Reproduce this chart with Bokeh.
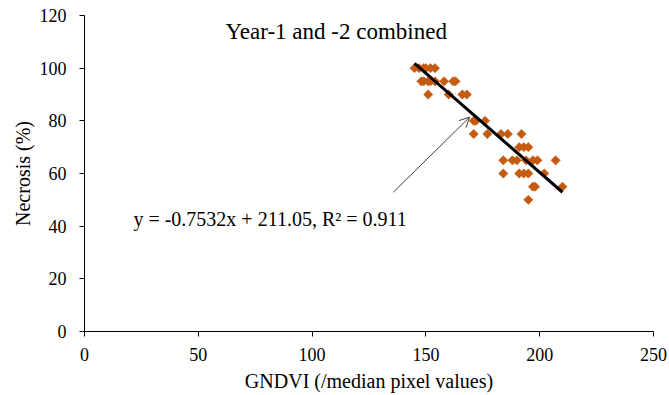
import math
from bokeh.plotting import figure
from bokeh.models import Range1d, FixedTicker, Label, Arrow, OpenHead, ColumnDataSource
from bokeh.embed import file_html
from bokeh.resources import INLINE

# ---- data ----
gndvi = [145, 147, 149, 150, 152, 154,
         148, 149, 151, 152, 154, 158, 162, 163,
         151, 160, 166, 168,
         171, 172, 176,
         171, 177, 183, 186, 192,
         191, 193, 195,
         184, 188, 190, 194, 197, 199, 207,
         184, 191, 193, 195, 202,
         197, 198, 210,
         195]
necrosis = [100] * 6 + [95] * 8 + [90] * 4 + [80] * 3 + [75] * 5 + [70] * 3 + [65] * 7 + [60] * 5 + [55] * 3 + [50]

slope = -0.7532
intercept = 211.05
r2 = 0.911

x_ticks = [0, 50, 100, 150, 200, 250]
y_ticks = [0, 20, 40, 60, 80, 100, 120]

title_text = "Year-1 and -2 combined"
eq_text = "y = -0.7532x + 211.05, R\u00b2 = 0.911"
x_label = "GNDVI (/median pixel values)"
y_label = "Necrosis (%)"

FONT = "Liberation Serif"

p = figure(width=669, height=395, output_backend="svg", toolbar_location=None,
           x_range=Range1d(0, 250), y_range=Range1d(0, 120),
           min_border_left=84, min_border_right=16, min_border_top=15, min_border_bottom=64)
p.outline_line_color = None
p.background_fill_color = "white"
p.border_fill_color = "white"
p.xgrid.visible = False
p.ygrid.visible = False

for ax in (p.xaxis[0], p.yaxis[0]):
    ax.axis_line_color = "black"
    ax.axis_line_width = 1
    ax.major_tick_line_color = "black"
    ax.major_tick_in = 0
    ax.major_tick_out = 5
    ax.minor_tick_line_color = None
    ax.major_label_text_font = FONT
    ax.major_label_text_font_size = "18px"
    ax.major_label_text_color = "black"
    ax.axis_label_text_font = FONT
    ax.axis_label_text_font_size = "20px"
    ax.axis_label_text_font_style = "normal"
    ax.axis_label_text_color = "black"

p.xaxis.ticker = FixedTicker(ticks=x_ticks)
p.yaxis.ticker = FixedTicker(ticks=y_ticks)
p.xaxis.axis_label = x_label
p.yaxis.axis_label = y_label
p.xaxis.major_label_standoff = 11
p.yaxis.major_label_standoff = 13
p.xaxis.axis_label_standoff = 6
p.yaxis.axis_label_standoff = 3

src = ColumnDataSource(dict(x=gndvi, y=necrosis))
p.scatter("x", "y", source=src, marker="square", angle=math.pi / 4, size=6.6,
          fill_color="#C55A11", line_color="#C55A11", line_width=0.5)

# linear trendline over the data range
x0, x1 = min(gndvi), max(gndvi)
p.line([x0, x1], [slope * x0 + intercept, slope * x1 + intercept], line_color="black", line_width=3)

p.add_layout(Arrow(end=OpenHead(size=10, line_color="#404040", line_width=1),
                   x_start=135.7, y_start=52.9, x_end=169.2, y_end=81.4,
                   line_color="#404040", line_width=1))

p.add_layout(Label(x=21.5, y=42.8, text=eq_text, text_font=FONT, text_font_size="20px",
                   text_color="black", text_align="left", text_baseline="alphabetic"))
p.add_layout(Label(x=110.6, y=114.1, text=title_text, text_font=FONT, text_font_size="23px",
                   text_color="black", text_align="center", text_baseline="alphabetic"))

open("out.html", "w").write(file_html(p, INLINE))
